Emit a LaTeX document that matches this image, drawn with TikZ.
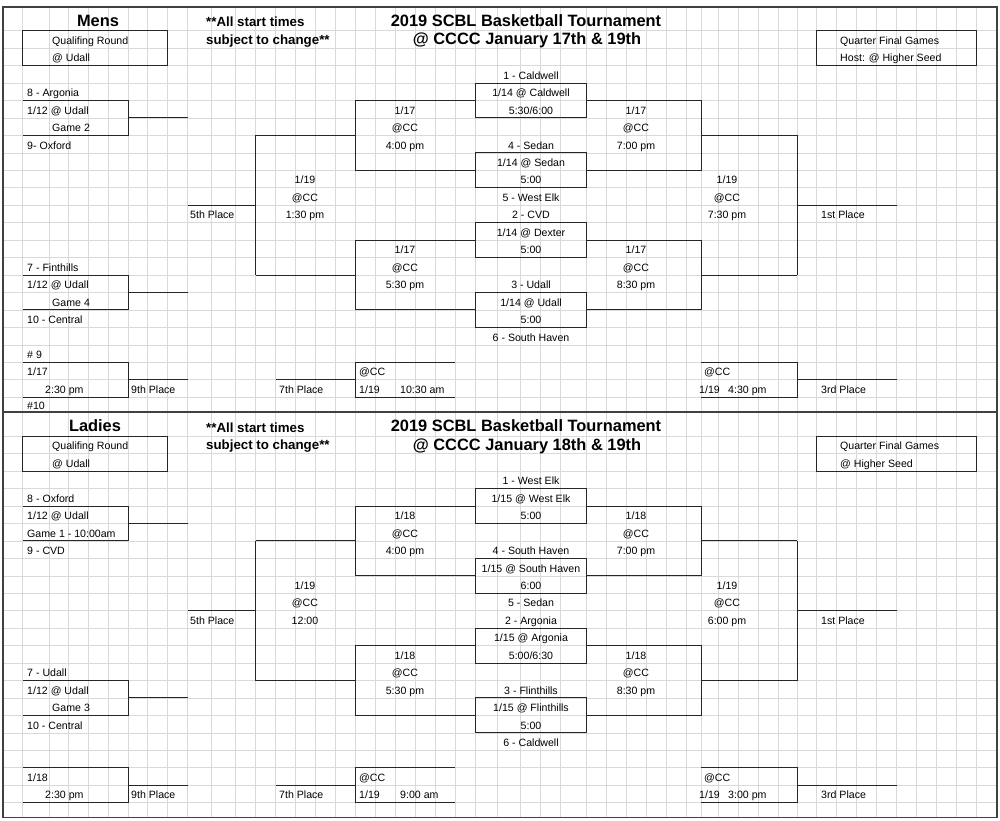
\documentclass[tikz,border=0pt]{standalone}
\usepackage{fontspec}
\setmainfont{Liberation Sans}
\newcommand\yc[1]{\fpeval{24.3+17.45*(#1)}}
\newcommand\yl[1]{\fpeval{13.25+17.45*(#1)}}
\tikzset{
  gridline/.style={draw=black!15,line width=0.6pt},
  brk/.style={draw=black!85,line width=1pt},
  frame/.style={draw=black!75,line width=1.3pt},
  tx/.style={inner sep=0pt,font=\fontsize{10.6}{12}\selectfont,text height=7.5pt,text depth=2.3pt},
  tw/.style={tx,anchor=west},
  bigt/.style={inner sep=0pt,font=\bfseries\fontsize{16.4}{18}\selectfont,text height=11pt,text depth=3pt},
  midt/.style={inner sep=0pt,font=\bfseries\fontsize{13.3}{15}\selectfont,anchor=west,text height=9pt,text depth=2.5pt},
}
\newcommand\drawhalf[1]{%
  \foreach \x in {22.7,49.3,68.3,88.3,108.3,128,147.7,167.7,187.7,211.7,235.7,255.7,275.7,295.7,315,335,355,375,395,415,435,455,475,497,520,540,560,586.7,606.7,626.7,646.7,666.7,686.7,701,718,738,758,778,797,816.7,836.7,856.7,876.7,896.7,916.7,936.7,956.7,976.7}
    \draw[gridline] (\x,7) -- (\x,412);
  \foreach \r in {1,...,22} \draw[gridline] (3,\yl{\r}) -- (997,\yl{\r});
  \draw[frame] (3,7) rectangle (997,412);
  % boxes
  \draw[brk] (22.7,\yl1) rectangle (167.7,\yl3);
  \draw[brk] (816.7,\yl1) rectangle (976.7,\yl3);
  \draw[brk] (22.7,\yl5) -- (128,\yl5) -- (128,\yl7) -- (22.7,\yl7);
  \draw[brk] (128,\yl6) -- (187.7,\yl6);
  \draw[brk] (22.7,\yl{15}) -- (128,\yl{15}) -- (128,\yl{17}) -- (22.7,\yl{17});
  \draw[brk] (128,\yl{16}) -- (187.7,\yl{16});
  \foreach \a/\b in {4/6,8/10,12/14,16/18} \draw[brk] (475,\yl{\a}) rectangle (586.7,\yl{\b});
  \foreach \a/\b/\c in {5/7/9,13/15/17}{
    \draw[brk] (475,\yl{\a}) -- (355,\yl{\a}) -- (355,\yl{\c}) -- (475,\yl{\c});
    \draw[brk] (355,\yl{\b}) -- (255.7,\yl{\b});
    \draw[brk] (586.7,\yl{\a}) -- (701,\yl{\a}) -- (701,\yl{\c}) -- (586.7,\yl{\c});
    \draw[brk] (701,\yl{\b}) -- (797,\yl{\b});
  }
  \draw[brk] (255.7,\yl7) -- (255.7,\yl{15});
  \draw[brk] (255.7,\yl{11}) -- (187.7,\yl{11});
  \draw[brk] (797,\yl7) -- (797,\yl{15});
  \draw[brk] (797,\yl{11}) -- (896.7,\yl{11});
  \draw[brk] (22.7,\yl{20}) -- (128,\yl{20}) -- (128,\yl{22}) -- (22.7,\yl{22});
  \draw[brk] (128,\yl{21}) -- (187.7,\yl{21});
  \draw[brk] (455,\yl{20}) -- (355,\yl{20}) -- (355,\yl{22}) -- (455,\yl{22});
  \draw[brk] (355,\yl{21}) -- (275.7,\yl{21});
  \draw[brk] (701,\yl{20}) -- (797,\yl{20}) -- (797,\yl{22}) -- (701,\yl{22});
  \draw[brk] (797,\yl{21}) -- (896.7,\yl{21});
  % headings
  \node[bigt] (#1-sec) at (\SecX,\yc0-2) {\Sec};
  \node[midt] (#1-n1) at (206,\yc0-1) {**All start times};
  \node[midt] (#1-n2) at (206,\yc1-1) {subject to change**};
  \node[bigt] (#1-t1) at (526,\yc0-2) {2019 SCBL Basketball Tournament};
  \node[bigt] (#1-t2) at (527,\yc1-1) {\Sub};
  \node[tw] (#1-q1) at (52,\yc1) {Qualifing Round};
  \node[tw] (#1-q2) at (52,\yc2) {@ Udall};
  \node[tw] (#1-h1) at (840,\yc1) {Quarter Final Games};
  \node[tw] (#1-h2) at (840,\yc2) {\Host};
  % centre column
  \foreach \r/\t [count=\i] in {3/\CA,4/\CB,5/\CC,7/\CD,8/\CE,9/\CF,10/\CG,11/\CH,12/\CI,13/\CJ,15/\CK,16/\CL,17/\CM,18/\CN}
    \node[tx] (#1-c\i) at (531,\yc{\r}) {\t};
  % left qualifiers
  \node[tw] (#1-la) at (27,\yc4) {\LA};
  \node[tw] (#1-lb) at (27,\yc5) {1/12 @ Udall};
  \node[tw] (#1-lc) at (\LCx,\yc6) {\LC};
  \node[tw] (#1-ld) at (27,\yc7) {\LD};
  \node[tw] (#1-le) at (27,\yc{14}) {\LE};
  \node[tw] (#1-lf) at (27,\yc{15}) {1/12 @ Udall};
  \node[tw] (#1-lg) at (52,\yc{16}) {\LG};
  \node[tw] (#1-lh) at (27,\yc{17}) {10 - Central};
  % quarter finals
  \foreach \x/\r/\t [count=\i] in {405/5/\QD,405/6/@CC,405/7/\QA,405/13/\QD,405/14/@CC,405/15/\QB,
      636/5/\QD,636/6/@CC,636/7/\QC,636/13/\QD,636/14/@CC,636/15/8:30 pm,
      305/9/{1/19},305/10/@CC,305/11/\SF,727/9/{1/19},727/10/@CC,727/11/\FN}
    \node[tx] (#1-g\i) at (\x,\yc{\r}) {\t};
  \node[tw] (#1-p5) at (190,\yc{11}) {5th Place};
  \node[tw] (#1-p1) at (821,\yc{11}) {1st Place};
  % lower games
  \node[tw] (#1-n9) at (27,\yc{19}) {\NA};
  \node[tw] (#1-na) at (27,\yc{20}) {\QD};
  \node[tw] (#1-nb) at (45,\yc{21}) {2:30 pm};
  \node[tw] (#1-nc) at (27,\yc{22}-1) {\NB};
  \node[tw] (#1-p9) at (131,\yc{21}) {9th Place};
  \node[tw] (#1-p7) at (279,\yc{21}) {7th Place};
  \node[tw] (#1-sa) at (359,\yc{20}) {@CC};
  \node[tw] (#1-sb) at (359,\yc{21}) {1/19};
  \node[tw] (#1-sc) at (\SSx,\yc{21}) {\SS};
  \node[tw] (#1-ta) at (704,\yc{20}) {@CC};
  \node[tw] (#1-tb) at (699,\yc{21}) {1/19};
  \node[tw] (#1-tc) at (728,\yc{21}) {\TS};
  \node[tw] (#1-p3) at (821,\yc{21}) {3rd Place};
}
\begin{document}
\begin{tikzpicture}[x=1pt,y=-1pt]
\useasboundingbox (0,0) rectangle (1000,820);
\fill[white] (0,0) rectangle (1000,820);
\begin{scope}
\def\Sec{Mens}\def\SecX{98}\def\Sub{@ CCCC January 17th \& 19th}\def\Host{Host: @ Higher Seed}
\def\CA{1 - Caldwell}\def\CB{1/14 @ Caldwell}\def\CC{5:30/6:00}
\def\CD{4 - Sedan}\def\CE{1/14 @ Sedan}\def\CF{5:00}
\def\CG{5 - West Elk}\def\CH{2 - CVD}\def\CI{1/14 @ Dexter}\def\CJ{5:00}
\def\CK{3 - Udall}\def\CL{1/14 @ Udall}\def\CM{5:00}\def\CN{6 - South Haven}
\def\LA{8 - Argonia}\def\LC{Game 2}\def\LCx{52}\def\LD{9- Oxford}
\def\LE{7 - Finthills}\def\LG{Game 4}
\def\QD{1/17}\def\QA{4:00 pm}\def\QB{5:30 pm}\def\QC{7:00 pm}
\def\SF{1:30 pm}\def\FN{7:30 pm}
\def\NA{\# 9}\def\NB{\#10}\def\SS{10:30 am}\def\SSx{400}\def\TS{4:30 pm}
\drawhalf{m}
\end{scope}
\begin{scope}[yshift=-405.5pt]
\def\Sec{Ladies}\def\SecX{95}\def\Sub{@ CCCC January 18th \& 19th}\def\Host{@ Higher Seed}
\def\CA{1 - West Elk}\def\CB{1/15 @ West Elk}\def\CC{5:00}
\def\CD{4 - South Haven}\def\CE{1/15 @ South Haven}\def\CF{6:00}
\def\CG{5 - Sedan}\def\CH{2 - Argonia}\def\CI{1/15 @ Argonia}\def\CJ{5:00/6:30}
\def\CK{3 - Flinthills}\def\CL{1/15 @ Flinthills}\def\CM{5:00}\def\CN{6 - Caldwell}
\def\LA{8 - Oxford}\def\LC{Game 1 - 10:00am}\def\LCx{27}\def\LD{9 - CVD}
\def\LE{7 - Udall}\def\LG{Game 3}
\def\QD{1/18}\def\QA{4:00 pm}\def\QB{5:30 pm}\def\QC{7:00 pm}
\def\SF{12:00}\def\FN{6:00 pm}
\def\NA{}\def\NB{}\def\SS{9:00 am}\def\SSx{400}\def\TS{3:00 pm}
\drawhalf{l}
\end{scope}
\end{tikzpicture}
\end{document}
